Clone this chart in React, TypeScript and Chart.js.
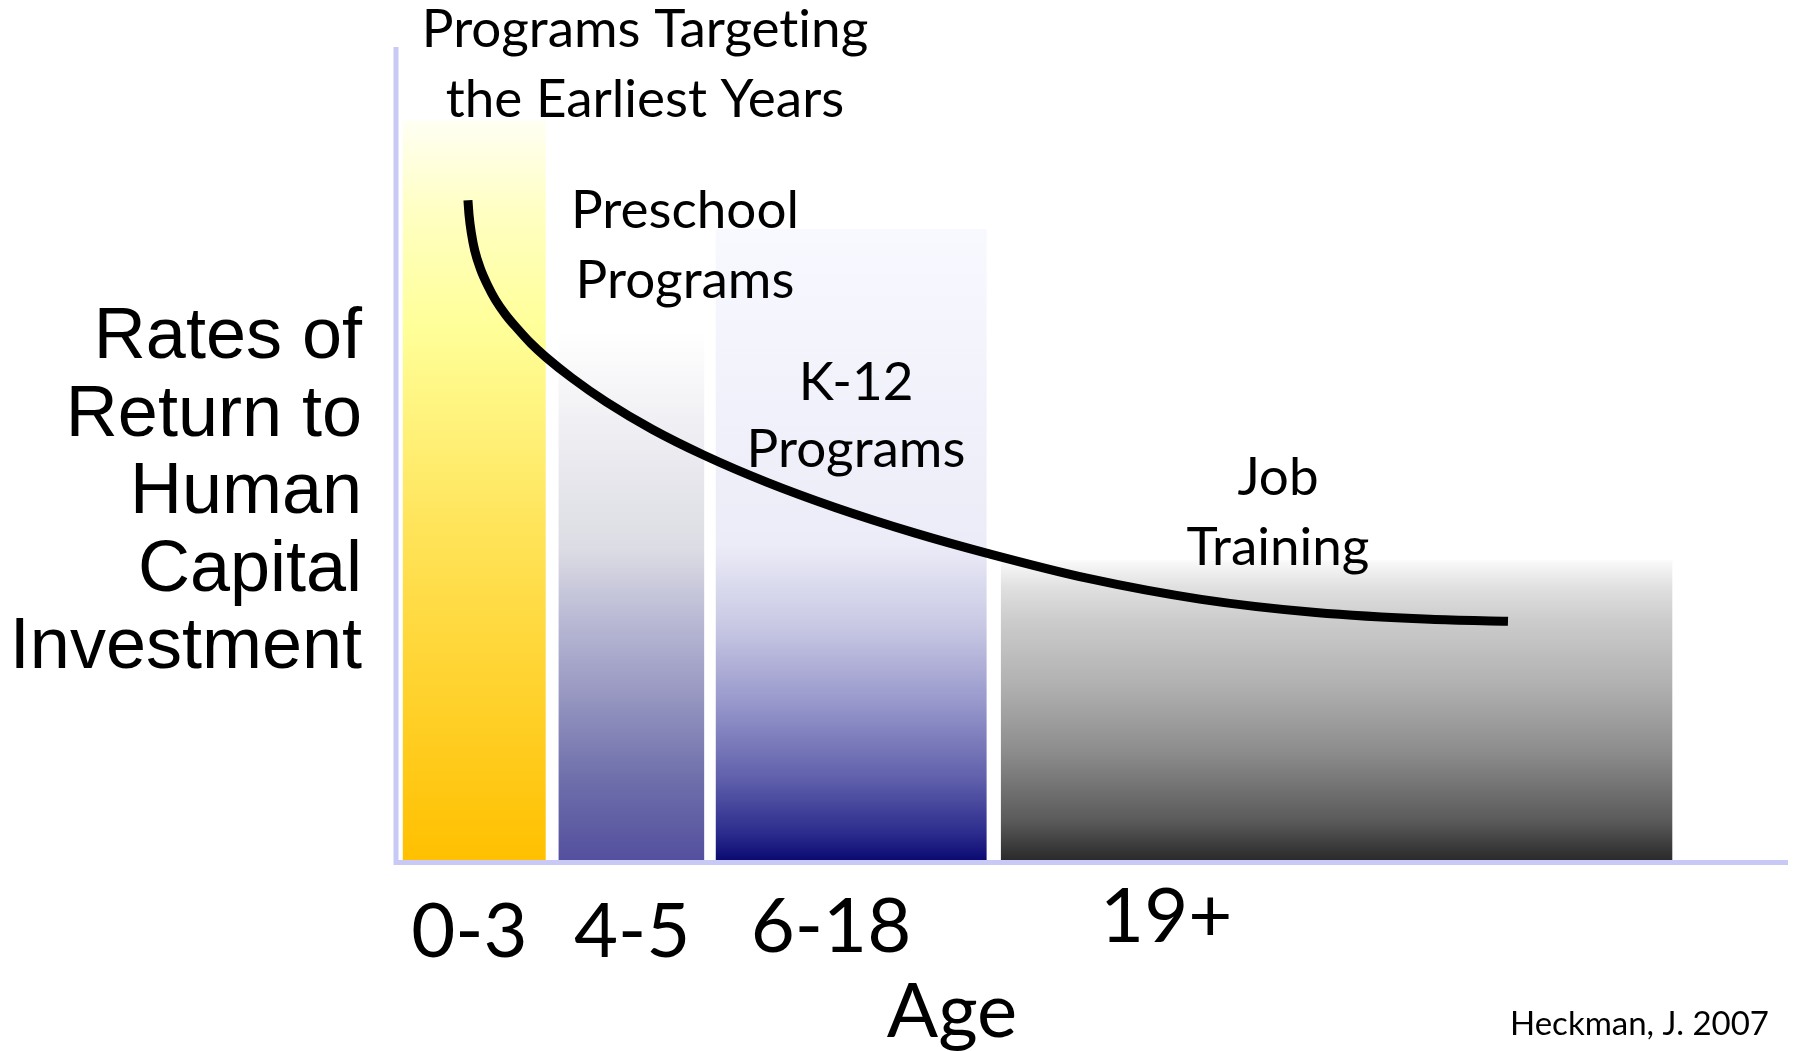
import React, { useEffect, useRef } from "react";
import { Chart, registerables } from "chart.js";

Chart.register(...registerables);

// ---------------- data ----------------
const ageGroups = ["0-3", "4-5", "6-18", "19+"];
const programLabels = [
  ["Programs Targeting", "the Earliest Years"],
  ["Preschool", "Programs"],
  ["K-12", "Programs"],
  ["Job", "Training"],
];
// bar extents on the (abstract 0-100) age axis and their heights on the (abstract 0-100) return axis
const barStart = [0.4, 11.6, 22.9, 43.4];
const barEnd = [10.7, 22.1, 42.4, 91.7];
const barHeight = [91.1, 65.0, 77.7, 36.9];
// rate-of-return curve
const curveX = [5.1, 5.18, 5.35, 5.59, 6.0, 6.5, 7.07, 7.81, 8.64, 9.62, 10.69, 12.58, 15.05, 18.34, 22.04, 26.57, 31.5, 37.26, 42.44, 49.6, 57.82, 66.05, 74.27, 79.87];
const curveY = [81.25, 79.42, 77.17, 75.05, 72.8, 70.83, 69.0, 67.16, 65.47, 63.64, 61.95, 59.36, 56.4, 53.05, 49.88, 46.54, 43.42, 40.26, 37.77, 34.71, 32.1, 30.48, 29.64, 29.4];
// tick label positions on the age axis
const tickPositions = [5.2, 16.9, 31.2, 55.3];
const yTitle = ["Rates of", "Return to", "Human", "Capital", "Investment"];
const xTitle = "Age";
const sourceNote = "Heckman, J. 2007";

// ---------------- styles ----------------
const gradientStops: [number, string][][] = [
  [[0, "#fffff4"], [0.12, "#ffffc4"], [0.28, "#ffff99"], [0.55, "#ffe45a"], [1, "#ffc000"]],
  [[0, "#ffffff"], [0.26, "#e8e8ee"], [0.41, "#dcdce4"], [0.55, "#b8b8d4"], [0.7, "#9494c0"], [0.84, "#7070ac"], [1, "#54509e"]],
  [[0, "#f8f8ff"], [0.5, "#ececf8"], [0.63, "#c8c8e4"], [0.75, "#9898cc"], [0.87, "#6060ac"], [0.96, "#2a2a8c"], [1, "#0a0a72"]],
  [[0, "#fafafa"], [0.09, "#e0e0e0"], [0.2, "#cccccc"], [0.42, "#b0b0b0"], [0.64, "#8c8c8c"], [0.87, "#5a5a5a"], [1, "#2a2a2a"]],
];
const AXIS_COLOR = "#c9c9f6";
const LABEL_FONT = '53px Lato';
const TICK_FONT = '76px Lato';
const XTITLE_FONT = '76px Lato';
const SOURCE_FONT = '33px Lato';
const YTITLE_FONT = '72px "Liberation Sans", Arial, sans-serif';
const labelLayout = [
  { x: 645, y: [47, 117] },
  { x: 685, y: [228, 298] },
  { x: 856, y: [400, 467] },
  { x: 1278, y: [495, 565] },
];
const tickBaselineOffset = [97, 97, 92, 82];

function makeGradient(chart: any, i: number) {
  const { ctx, chartArea, scales } = chart;
  const stops = gradientStops[i];
  if (!chartArea || !scales || !scales.y) return stops[stops.length - 1][1];
  const y0 = scales.y.getPixelForValue(barHeight[i]);
  const y1 = scales.y.getPixelForValue(0);
  const g = ctx.createLinearGradient(0, y0, 0, y1);
  stops.forEach(([o, c]) => g.addColorStop(o, c));
  return g;
}

const overlayPlugin = {
  id: "overlay",
  beforeDatasetsDraw(chart: any) {
    const { ctx, chartArea } = chart;
    ctx.save();
    ctx.strokeStyle = AXIS_COLOR;
    ctx.lineWidth = 5;
    ctx.lineCap = "butt";
    ctx.beginPath();
    ctx.moveTo(chartArea.left - 1, chartArea.top - 1);
    ctx.lineTo(chartArea.left - 1, chartArea.bottom + 5);
    ctx.moveTo(chartArea.left - 3.5, chartArea.bottom + 2.5);
    ctx.lineTo(chartArea.right, chartArea.bottom + 2.5);
    ctx.stroke();
    ctx.restore();
  },
  afterDraw(chart: any) {
    const { ctx, chartArea, scales } = chart;
    ctx.save();
    ctx.fillStyle = "#000";
    ctx.textBaseline = "alphabetic";
    try {
      (ctx as any).textRendering = "optimizeSpeed";
    } catch (e) {
      /* ignore */
    }

    // program labels
    ctx.textAlign = "center";
    ctx.font = LABEL_FONT;
    programLabels.forEach((lines, i) => {
      lines.forEach((t, j) => ctx.fillText(t, labelLayout[i].x, labelLayout[i].y[j]));
    });

    // age tick labels
    ctx.font = TICK_FONT;
    ageGroups.forEach((t, i) => {
      ctx.fillText(t, scales.x.getPixelForValue(tickPositions[i]), chartArea.bottom + tickBaselineOffset[i]);
    });

    // x title
    ctx.font = XTITLE_FONT;
    ctx.fillText(xTitle, 952, 1037);

    // y title
    ctx.textAlign = "right";
    ctx.font = YTITLE_FONT;
    yTitle.forEach((t, j) => ctx.fillText(t, 362, 358 + j * 77.5));

    // source
    ctx.font = SOURCE_FONT;
    ctx.fillText(sourceNote, 1769, 1035);
    ctx.restore();
  },
};

export default function App() {
  const canvasRef = useRef<HTMLCanvasElement | null>(null);

  useEffect(() => {
    const canvas = canvasRef.current;
    if (!canvas) return;

    const barDatasets = ageGroups.map((g, i) => ({
      label: g,
      data: [
        { x: barStart[i], y: barHeight[i] },
        { x: barEnd[i], y: barHeight[i] },
      ],
      fill: "origin",
      borderWidth: 0,
      borderColor: "rgba(0,0,0,0)",
      pointRadius: 0,
      tension: 0,
      order: 1,
      backgroundColor: (c: any) => makeGradient(c.chart, i),
    }));

    const curveDataset = {
      label: "Rate of return",
      data: curveX.map((x, i) => ({ x, y: curveY[i] })),
      borderColor: "#000",
      borderWidth: 9,
      borderCapStyle: "butt",
      borderJoinStyle: "round",
      pointRadius: 0,
      fill: false,
      cubicInterpolationMode: "monotone",
      order: 0,
    };

    const chart = new Chart(canvas, {
      type: "line",
      data: { datasets: [curveDataset as any, ...(barDatasets as any)] },
      options: {
        animation: false,
        responsive: false,
        devicePixelRatio: 1,
        events: [],
        layout: { padding: { left: 397, right: 6, top: 48, bottom: 191 } },
        scales: {
          x: { type: "linear", min: 0, max: 100, display: false },
          y: { type: "linear", min: 0, max: 100, display: false },
        },
        plugins: { legend: { display: false }, tooltip: { enabled: false } },
      },
      plugins: [overlayPlugin],
    });

    return () => chart.destroy();
  }, []);

  return (
    <div style={{ position: "fixed", left: 0, top: 0, width: 1794, height: 1051, background: "#fff" }}>
      <canvas ref={canvasRef} width={1794} height={1051} style={{ display: "block" }} />
    </div>
  );
}
